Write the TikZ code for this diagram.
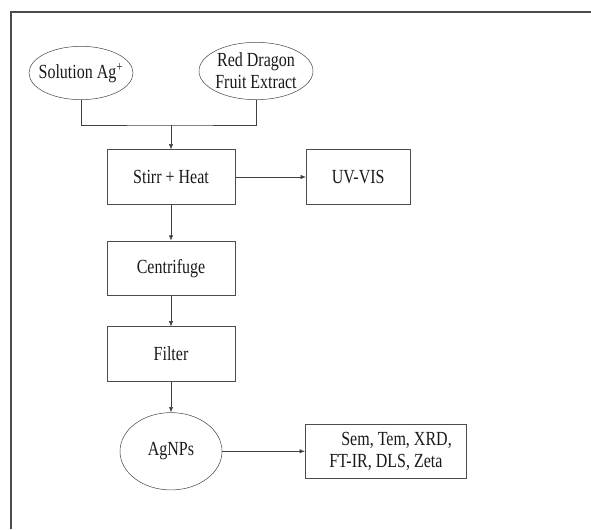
\documentclass[tikz,border=0pt]{standalone}
\usepackage{fontspec}
\setmainfont{Liberation Serif}[FakeStretch=0.8]
\usetikzlibrary{shapes.geometric, positioning, arrows.meta}

\begin{document}
\begin{tikzpicture}[x=0.75pt, y=-0.75pt, thin,
    every node/.style={font=\fontsize{15}{16.5}\selectfont, text=black!90},
    stepbox/.style={rectangle, draw=black!70, minimum width=96pt, minimum height=41pt},
    blob/.style={ellipse, draw=black!70, inner sep=0pt},
    flow/.style={-{Latex[length=4pt,width=3.2pt]}, draw=black!75}]

    \useasboundingbox (0,0) rectangle (591,529);

    % Frame (top and left edges only)
    \draw[line width=1.5pt, black!70] (591,12) -- (11,12) -- (11,529);

    % Inputs
    \node[blob, inner xsep=-6pt, minimum width=78pt, minimum height=40pt] (sol) at (81,73) {Solution Ag\textsuperscript{+}};
    \node[blob, align=center, inner xsep=-2.5pt, minimum width=85.5pt, minimum height=43pt] (fruit) at (256,71) {Red Dragon\\Fruit Extract};

    % Process steps
    \node[stepbox] (stirr) at (171,177) {Stirr + Heat};
    \node[stepbox, minimum width=78pt, right=53pt of stirr] (uv) {UV-VIS};
    \node[stepbox, below=27pt of stirr] (centr) {Centrifuge};
    \node[stepbox, below=23pt of centr] (filter) {Filter};
    \node[blob, minimum width=76.5pt, minimum height=58pt, below=23pt of filter] (agnps) {AgNPs};
    \node[stepbox, minimum width=121pt, align=center, right=62pt of agnps] (charac) {\hspace*{16pt}Sem, Tem, XRD,\\FT-IR, DLS, Zeta};

    % Connectors
    \coordinate (join) at (stirr.north |- 0,125);
    \draw[black!75] (sol.south) |- (join) -| (fruit.south);
    \draw[flow] (join) -- (stirr.north);
    \draw[flow] (stirr) -- (uv);
    \draw[flow] (stirr) -- (centr);
    \draw[flow] (centr) -- (filter);
    \draw[flow] (filter) -- (agnps);
    \draw[flow] (agnps) -- (charac);

\end{tikzpicture}
\end{document}
